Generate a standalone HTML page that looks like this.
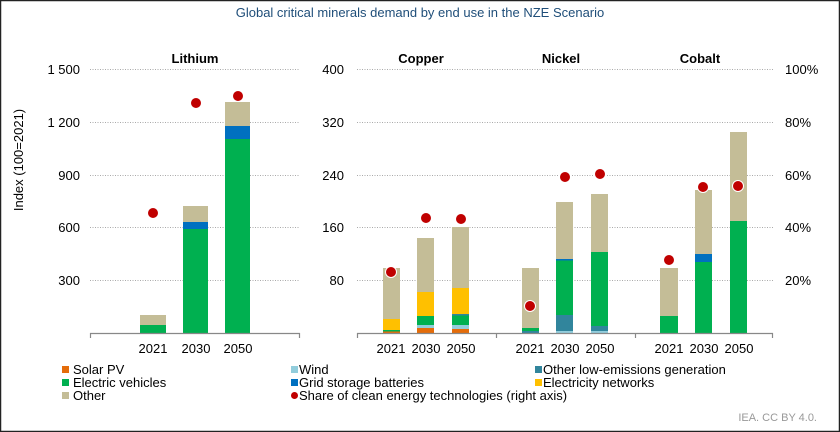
<!DOCTYPE html>
<html><head><meta charset="utf-8"><style>
body{margin:0;background:#fff}
svg{display:block;font-family:"Liberation Sans",Arial,sans-serif}
</style></head><body>
<svg width="840" height="432" viewBox="0 0 840 432" xmlns="http://www.w3.org/2000/svg">
<rect x="0.5" y="0.5" width="839" height="431" fill="#fff" stroke="#222" stroke-width="1.5"/>
<text x="420" y="17" text-anchor="middle" font-size="13" fill="#1f4e79">Global critical minerals demand by end use in the NZE Scenario</text>
<g font-size="13" font-weight="bold" fill="#000" text-anchor="middle">
<text x="195" y="63">Lithium</text><text x="421" y="63">Copper</text><text x="561" y="63">Nickel</text><text x="700" y="63">Cobalt</text>
</g>
<g stroke="#aaa" stroke-dasharray="1,1.5" stroke-width="1">
<line x1="90" x2="300" y1="69.5" y2="69.5"/><line x1="90" x2="300" y1="122.5" y2="122.5"/><line x1="90" x2="300" y1="175.5" y2="175.5"/><line x1="90" x2="300" y1="227.5" y2="227.5"/><line x1="90" x2="300" y1="280.5" y2="280.5"/>
<line x1="357" x2="773" y1="69.5" y2="69.5"/><line x1="357" x2="773" y1="122.5" y2="122.5"/><line x1="357" x2="773" y1="175.5" y2="175.5"/><line x1="357" x2="773" y1="227.5" y2="227.5"/><line x1="357" x2="773" y1="280.5" y2="280.5"/>
</g>
<g font-size="13" fill="#000" text-anchor="end">
<text x="80" y="74">1 500</text><text x="80" y="127">1 200</text><text x="80" y="180">900</text><text x="80" y="232">600</text><text x="80" y="285">300</text>
<text x="344" y="74">400</text><text x="344" y="127">320</text><text x="344" y="180">240</text><text x="344" y="232">160</text><text x="344" y="285">80</text>
</g>
<g font-size="13" fill="#000">
<text x="785" y="74">100%</text><text x="785" y="127">80%</text><text x="785" y="180">60%</text><text x="785" y="232">40%</text><text x="785" y="285">20%</text>
</g>
<text transform="translate(23,160) rotate(-90)" font-size="13" text-anchor="middle">Index (100=2021)</text>
<!-- Lithium bars -->
<rect x="140" y="315" width="26" height="10" fill="#c4bd97"/><rect x="140" y="325" width="26" height="8" fill="#00b050"/>
<rect x="183" y="206" width="25" height="16" fill="#c4bd97"/><rect x="183" y="222" width="25" height="7" fill="#0070c0"/><rect x="183" y="229" width="25" height="104" fill="#00b050"/>
<rect x="225" y="102" width="25" height="24" fill="#c4bd97"/><rect x="225" y="126" width="25" height="13" fill="#0070c0"/><rect x="225" y="139" width="25" height="194" fill="#00b050"/>
<!-- Copper -->
<rect x="383" y="268" width="17" height="51" fill="#c4bd97"/><rect x="383" y="319" width="17" height="11" fill="#ffc000"/><rect x="383" y="330" width="17" height="1.5" fill="#00b050"/><rect x="383" y="331.5" width="17" height="1.5" fill="#e46c0a"/>
<rect x="417" y="238" width="17" height="54" fill="#c4bd97"/><rect x="417" y="292" width="17" height="24" fill="#ffc000"/><rect x="417" y="316" width="17" height="9" fill="#00b050"/><rect x="417" y="325" width="17" height="3" fill="#92cddc"/><rect x="417" y="328" width="17" height="5" fill="#e46c0a"/>
<rect x="452" y="227" width="17" height="61" fill="#c4bd97"/><rect x="452" y="288" width="17" height="26" fill="#ffc000"/><rect x="452" y="314" width="17" height="1.5" fill="#31859c"/><rect x="452" y="315.5" width="17" height="9.5" fill="#00b050"/><rect x="452" y="325" width="17" height="4" fill="#92cddc"/><rect x="452" y="329" width="17" height="4" fill="#e46c0a"/>
<!-- Nickel -->
<rect x="522" y="268" width="17" height="60" fill="#c4bd97"/><rect x="522" y="328" width="17" height="3" fill="#00b050"/><rect x="522" y="331" width="17" height="2" fill="#31859c"/>
<rect x="556" y="202" width="17" height="57" fill="#c4bd97"/><rect x="556" y="259" width="17" height="1.5" fill="#0070c0"/><rect x="556" y="260.5" width="17" height="54.5" fill="#00b050"/><rect x="556" y="315" width="17" height="16" fill="#31859c"/><rect x="556" y="331" width="17" height="2" fill="#92cddc"/>
<rect x="591" y="194" width="17" height="58" fill="#c4bd97"/><rect x="591" y="252" width="17" height="74" fill="#00b050"/><rect x="591" y="326" width="17" height="5" fill="#31859c"/><rect x="591" y="331" width="17" height="2" fill="#92cddc"/>
<!-- Cobalt -->
<rect x="660" y="268" width="18" height="48" fill="#c4bd97"/><rect x="660" y="316" width="18" height="17" fill="#00b050"/>
<rect x="695" y="190" width="17" height="64" fill="#c4bd97"/><rect x="695" y="254" width="17" height="8" fill="#0070c0"/><rect x="695" y="262" width="17" height="71" fill="#00b050"/>
<rect x="730" y="132" width="17" height="89" fill="#c4bd97"/><rect x="730" y="221" width="17" height="112" fill="#00b050"/>
<!-- axes -->
<g stroke="#888" stroke-width="1.2">
<line x1="90" x2="300" y1="333.5" y2="333.5"/><line x1="90.5" x2="90.5" y1="333" y2="338"/><line x1="299.5" x2="299.5" y1="333" y2="338"/>
<line x1="357" x2="773" y1="333.5" y2="333.5"/><line x1="357.5" x2="357.5" y1="333" y2="338"/><line x1="496.5" x2="496.5" y1="333" y2="338"/><line x1="635.5" x2="635.5" y1="333" y2="338"/><line x1="772.5" x2="772.5" y1="333" y2="338"/>
</g>
<g font-size="13" text-anchor="middle">
<text x="153" y="353">2021</text><text x="196" y="353">2030</text><text x="238" y="353">2050</text>
<text x="391" y="353">2021</text><text x="426" y="353">2030</text><text x="461" y="353">2050</text>
<text x="530" y="353">2021</text><text x="565" y="353">2030</text><text x="600" y="353">2050</text>
<text x="669" y="353">2021</text><text x="704" y="353">2030</text><text x="739" y="353">2050</text>
</g>
<!-- dots -->
<g fill="#c00000" stroke="#fff" stroke-width="1">
<circle cx="153" cy="213" r="5.5"/><circle cx="196" cy="103" r="5.5"/><circle cx="238" cy="96" r="5.5"/>
<circle cx="391" cy="272" r="5.5"/><circle cx="426" cy="218" r="5.5"/><circle cx="461" cy="219" r="5.5"/>
<circle cx="530" cy="306" r="5.5"/><circle cx="565" cy="177" r="5.5"/><circle cx="600" cy="174" r="5.5"/>
<circle cx="669" cy="260" r="5.5"/><circle cx="703" cy="187" r="5.5"/><circle cx="738" cy="186" r="5.5"/>
</g>
<!-- legend -->
<g font-size="13">
<rect x="62" y="366" width="7" height="7" fill="#e46c0a"/><text x="73" y="374">Solar PV</text>
<rect x="62" y="379" width="7" height="7" fill="#00b050"/><text x="73" y="387">Electric vehicles</text>
<rect x="62" y="392" width="7" height="7" fill="#c4bd97"/><text x="73" y="400">Other</text>
<rect x="291" y="366" width="7" height="7" fill="#92cddc"/><text x="299" y="374">Wind</text>
<rect x="291" y="379" width="7" height="7" fill="#0070c0"/><text x="299" y="387">Grid storage batteries</text>
<circle cx="294.5" cy="395.5" r="3.5" fill="#c00000"/><text x="299" y="400">Share of clean energy technologies (right axis)</text>
<rect x="535" y="366" width="7" height="7" fill="#31859c"/><text x="543" y="374">Other low-emissions generation</text>
<rect x="535" y="379" width="7" height="7" fill="#ffc000"/><text x="543" y="387">Electricity networks</text>
</g>
<text x="817" y="421" font-size="11" fill="#999" text-anchor="end">IEA. CC BY 4.0.</text>
</svg>
</body></html>
